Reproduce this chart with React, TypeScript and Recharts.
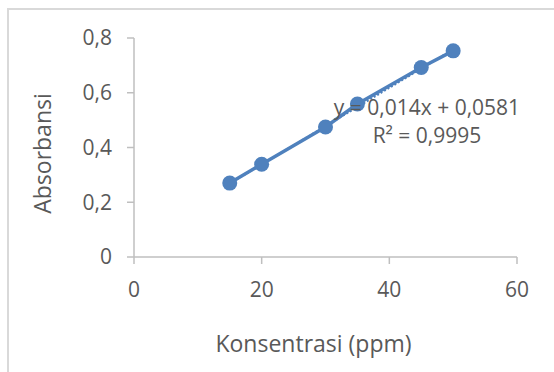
import React from 'react';
import { ScatterChart, Scatter, XAxis, YAxis, ReferenceDot } from 'recharts';

const konsentrasi = [15, 20, 30, 35, 45, 50];
const absorbansi = [0.27, 0.339, 0.475, 0.559, 0.692, 0.753];
const trendX = [15, 50];
const trendY = [0.268, 0.758];
const xTicks = [0, 20, 40, 60];
const yTicks = [0, 0.2, 0.4, 0.6, 0.8];
const equationText = 'y = 0,014x + 0,0581';
const r2Text = 'R² = 0,9995';

const points = konsentrasi.map((x, i) => ({ x, y: absorbansi[i] }));
const trend = trendX.map((x, i) => ({ x, y: trendY[i] }));

const BLUE = '#4f81bd';
const TEXT = '#595959';
const AXIS = '#bfbfbf';
const FONT = '"Open Sans", sans-serif';

const fmt = (v: number) => String(v).replace('.', ',');

const Dot = (props: any) => {
  const { cx, cy } = props;
  if (cx == null || cy == null) return null;
  return <circle cx={cx} cy={cy} r={7.5} fill={BLUE} />;
};

const NoShape = () => null;

export default function App() {
  return (
    <div
      style={{
        position: 'absolute',
        left: 0,
        top: 0,
        width: 554,
        height: 372,
        background: '#fff',
      }}
    >
      <div
        style={{
          position: 'absolute',
          left: 7,
          top: 8,
          width: 547,
          height: 364,
          borderTop: '2px solid #d9d9d9',
          borderLeft: '2px solid #d9d9d9',
          boxSizing: 'border-box',
        }}
      />
      <div style={{ position: 'absolute', left: 0, top: 0 }}>
        <ScatterChart
          width={554}
          height={372}
          margin={{ top: 38, right: 37, bottom: 0, left: 0 }}
        >
          <XAxis
            type="number"
            dataKey="x"
            domain={[0, 60]}
            ticks={xTicks}
            height={115}
            tickSize={7}
            tickMargin={18}
            stroke={AXIS}
            strokeWidth={1.5}
            tick={{ fill: TEXT, fontSize: 21, fontFamily: FONT }}
            tickFormatter={fmt}
            label={{
              content: (p: any) => {
                const vb = p.viewBox;
                return (
                  <text
                    x={vb.x + vb.width / 2 - 12}
                    y={vb.y + 95}
                    textAnchor="middle"
                    fill={TEXT}
                    fontSize={23}
                    fontFamily={FONT}
                  >
                    Konsentrasi (ppm)
                  </text>
                );
              },
            }}
          />
          <YAxis
            type="number"
            dataKey="y"
            domain={[0, 0.8]}
            ticks={yTicks}
            width={134}
            tickSize={7}
            tickMargin={15}
            stroke={AXIS}
            strokeWidth={1.5}
            tick={{ fill: TEXT, fontSize: 21, fontFamily: FONT }}
            tickFormatter={fmt}
            label={{
              content: (p: any) => {
                const vb = p.viewBox;
                const cx = vb.x + 51;
                const cy = vb.y + vb.height / 2 + 6;
                return (
                  <text
                    x={cx}
                    y={cy}
                    transform={`rotate(-90, ${cx}, ${cy})`}
                    textAnchor="middle"
                    fill={TEXT}
                    fontSize={23}
                    fontFamily={FONT}
                  >
                    Absorbansi
                  </text>
                );
              },
            }}
          />
          <Scatter
            data={trend}
            line={{ stroke: BLUE, strokeWidth: 2, strokeDasharray: '2 2' }}
            lineType="joint"
            shape={NoShape}
            isAnimationActive={false}
          />
          <Scatter
            data={points}
            line={{ stroke: BLUE, strokeWidth: 3.5 }}
            lineType="joint"
            shape={Dot}
            isAnimationActive={false}
          />
          <ReferenceDot
            x={45.9}
            y={0.547}
            r={0}
            fill="none"
            stroke="none"
            label={{ value: equationText, position: 'center', fill: TEXT, fontSize: 21, fontFamily: FONT }}
          />
          <ReferenceDot
            x={45.9}
            y={0.442}
            r={0}
            fill="none"
            stroke="none"
            label={{ value: r2Text, position: 'center', fill: TEXT, fontSize: 21, fontFamily: FONT }}
          />
        </ScatterChart>
      </div>
    </div>
  );
}
